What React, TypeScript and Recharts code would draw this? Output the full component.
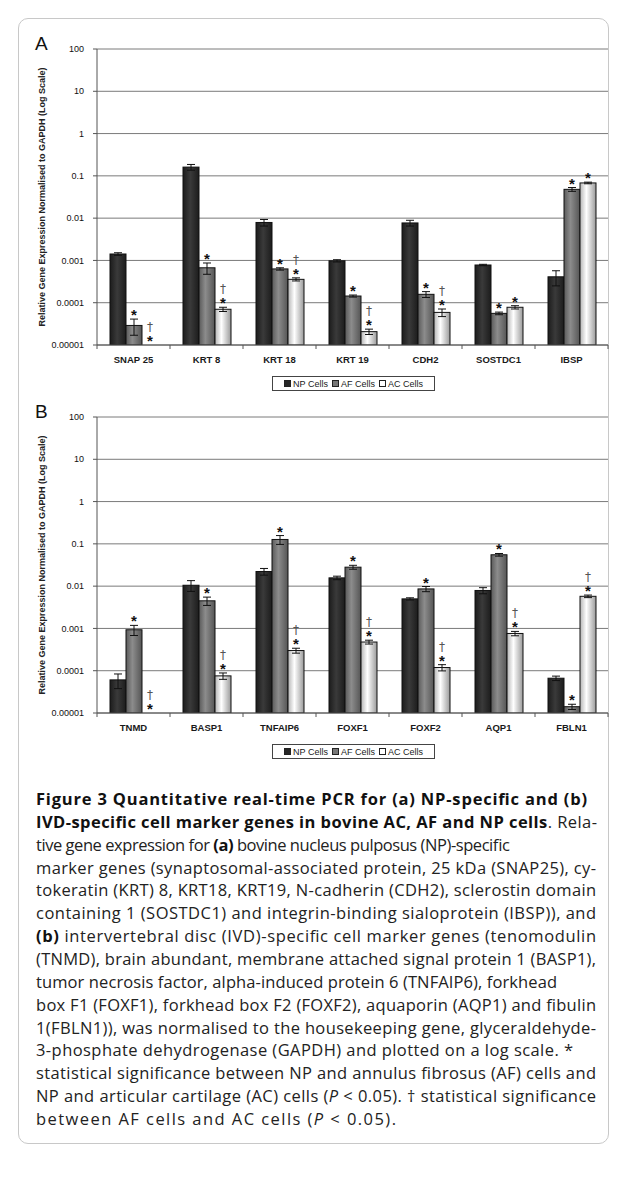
import React from 'react'
import { BarChart, Bar, XAxis, YAxis, CartesianGrid, ErrorBar } from 'recharts'

// panel A: NP-specific markers
const genesA = ['SNAP 25', 'KRT 8', 'KRT 18', 'KRT 19', 'CDH2', 'SOSTDC1', 'IBSP']
const npA = [0.00142, 0.161, 0.0079, 0.00098, 0.0077, 0.00078, 0.00041]
const npErrA = [0.0001, 0.025, 0.0014, 0.00006, 0.0012, 0.00003, 0.00016]
const afA = [0.000029, 0.00067, 0.00063, 0.000144, 0.000158, 0.000056, 0.048]
const afErrA = [0.000012, 0.0002, 0.00004, 0.000008, 0.000025, 0.000004, 0.005]
const acA = [null, 0.00007, 0.000357, 0.0000207, 0.000059, 0.000078, 0.068]
const acErrA = [null, 0.000008, 0.00003, 0.000003, 0.000012, 0.000007, 0.003]
const afSigA = ['*', '*', '*', '*', '*', '*', '*']
const acSigA = ['†*', '†*', '†*', '†*', '†*', '*', '*']

// panel B: IVD-specific markers
const genesB = ['TNMD', 'BASP1', 'TNFAIP6', 'FOXF1', 'FOXF2', 'AQP1', 'FBLN1']
const npB = [0.0000607, 0.0105, 0.0222, 0.0157, 0.005, 0.0079, 0.0000665]
const npErrB = [0.000023, 0.003, 0.004, 0.0015, 0.0003, 0.0013, 0.000008]
const afB = [0.00093, 0.0045, 0.127, 0.0281, 0.0086, 0.0552, 0.0000141]
const afErrB = [0.00025, 0.001, 0.03, 0.003, 0.0012, 0.004, 0.000002]
const acB = [null, 0.0000755, 0.0003, 0.000477, 0.000119, 0.00076, 0.00575]
const acErrB = [null, 0.000013, 0.00004, 0.00005, 0.00002, 0.00009, 0.0004]
const afSigB = ['*', '*', '*', '*', '*', '*', '*']
const acSigB = ['†*', '†*', '†*', '†*', '†*', '†*', '†*']

const yTicks = [0.00001, 0.0001, 0.001, 0.01, 0.1, 1, 10, 100]
const yTickLabels = ['0.00001', '0.0001', '0.001', '0.01', '0.1', '1', '10', '100']
const seriesNames = ['NP Cells', 'AF Cells', 'AC Cells']

const FLOOR = 0.00001
const PLOT_H = 296
const DECADE = PLOT_H / 7
const BAND = 511 / 7
const FONT = '"Liberation Sans", Arial, sans-serif'

const buildRows = (genes, np, npErr, af, afErr, ac, acErr, afSig, acSig) =>
  genes.map((g, i) => ({
    gene: g,
    np: np[i],
    npErr: npErr[i],
    af: af[i],
    afErr: afErr[i],
    ac: ac[i] == null ? FLOOR : ac[i],
    acErr: acErr[i] == null ? 0 : acErr[i],
    acMissing: ac[i] == null,
    afSig: afSig[i],
    acSig: acSig[i],
  }))

const rowsA = buildRows(genesA, npA, npErrA, afA, afErrA, acA, acErrA, afSigA, acSigA)
const rowsB = buildRows(genesB, npB, npErrB, afB, afErrB, acB, acErrB, afSigB, acSigB)

const makeShape = (key: string, fillId: string) => (props: any) => {
  const { x, y, width, height, payload } = props
  const v = payload[key]
  const err = payload[key + 'Err'] || 0
  const missing = key === 'ac' && payload.acMissing
  const sig = key === 'np' ? '' : payload[key + 'Sig']
  const errPx = missing ? 0 : Math.log10((v + err) / v) * DECADE
  const top = y - errPx
  const starC = missing ? y + height - 7 : top - 7
  const cx = x + width / 2
  return (
    <g>
      {!missing && height > 0 && (
        <rect x={x} y={y} width={width} height={height} fill={`url(#${fillId})`} stroke="#111" strokeWidth={1} />
      )}
      {sig && sig.includes('*') && (
        <text x={cx} y={starC + 8} textAnchor="middle" fontSize={15} fontWeight="bold" fontFamily={FONT} fill="#111">*</text>
      )}
      {sig && sig.includes('†') && (
        <text x={cx} y={starC - 7} textAnchor="middle" fontSize={12} fontFamily='"DejaVu Sans", sans-serif' fill="#555">†</text>
      )}
    </g>
  )
}

const XTick = (props: any) => {
  const { x, y, payload, index } = props
  return (
    <g>
      <line x1={x - BAND / 2} y1={y} x2={x - BAND / 2} y2={y + 4} stroke="#555" />
      {index === 6 && <line x1={x + BAND / 2} y1={y} x2={x + BAND / 2} y2={y + 4} stroke="#555" />}
      <text x={x} y={y + 18} textAnchor="middle" fontSize={9.5} fontWeight="bold" fontFamily={FONT} fill="#1a1a1a">
        {payload.value}
      </text>
    </g>
  )
}

const LegendBox = ({ top }: { top: number }) => {
  const swatch = ['#262626', '#777', '#fff']
  return (
    <div
      style={{
        position: 'absolute', left: 272, top, width: 161, height: 13,
        border: '1px solid #444', background: '#fff', display: 'flex', alignItems: 'center',
        justifyContent: 'center', gap: 4, fontFamily: FONT, fontSize: 9, color: '#1a1a1a',
      }}
    >
      {seriesNames.map((n, i) => (
        <span key={n} style={{ display: 'flex', alignItems: 'center', gap: 2 }}>
          <span style={{ width: 5, height: 5, border: '1px solid #222', background: swatch[i], display: 'inline-block' }} />
          {n}
        </span>
      ))}
    </div>
  )
}

const Gradients = () => (
  <defs>
    <linearGradient id="gNP" x1="0" y1="0" x2="1" y2="0">
      <stop offset="0" stopColor="#1c1c1c" />
      <stop offset="0.45" stopColor="#3a3a3a" />
      <stop offset="1" stopColor="#1c1c1c" />
    </linearGradient>
    <linearGradient id="gAF" x1="0" y1="0" x2="1" y2="0">
      <stop offset="0" stopColor="#5a5a5a" />
      <stop offset="0.4" stopColor="#8c8c8c" />
      <stop offset="1" stopColor="#555" />
    </linearGradient>
    <linearGradient id="gAC" x1="0" y1="0" x2="1" y2="0">
      <stop offset="0" stopColor="#b5b5b5" />
      <stop offset="0.4" stopColor="#ffffff" />
      <stop offset="1" stopColor="#9a9a9a" />
    </linearGradient>
  </defs>
)

const Panel = ({ letter, rows, top }: { letter: string; rows: any[]; top: number }) => (
  <div style={{ position: 'absolute', left: 0, top, width: 624, height: 400 }}>
    <BarChart width={624} height={400} data={rows} margin={{ top: 49, right: 16, bottom: 35, left: 37 }} barSize={16} barGap={0}>
      <Gradients />
      <CartesianGrid vertical={false} stroke="#7a7a7a" strokeWidth={1} />
      <XAxis dataKey="gene" height={20} tickLine={false} tickSize={0} tickMargin={0} axisLine={{ stroke: '#555' }} tick={<XTick />} interval={0} />
      <YAxis
        scale="log"
        domain={[FLOOR, 100]}
        ticks={yTicks}
        allowDataOverflow
        width={60}
        tickSize={4}
        tickMargin={9}
        tickFormatter={(v) => yTickLabels[yTicks.indexOf(v)]}
        tick={{ fontSize: 9, fill: '#111', fontFamily: FONT }}
        axisLine={{ stroke: '#555' }}
        tickLine={{ stroke: '#555' }}
        label={{
          value: 'Relative Gene Expression Normalised to GAPDH (Log Scale)',
          angle: -90, position: 'insideLeft', offset: 5,
          style: { textAnchor: 'middle', fontSize: 9, fontWeight: 'bold', fontFamily: FONT, fill: '#222' },
        }}
      />
      <Bar dataKey="np" name={seriesNames[0]} shape={makeShape('np', 'gNP')} isAnimationActive={false}>
        <ErrorBar dataKey="npErr" width={4} stroke="#111" strokeWidth={1} isAnimationActive={false} />
      </Bar>
      <Bar dataKey="af" name={seriesNames[1]} shape={makeShape('af', 'gAF')} isAnimationActive={false}>
        <ErrorBar dataKey="afErr" width={4} stroke="#111" strokeWidth={1} isAnimationActive={false} />
      </Bar>
      <Bar dataKey="ac" name={seriesNames[2]} shape={makeShape('ac', 'gAC')} isAnimationActive={false}>
        <ErrorBar dataKey="acErr" width={4} stroke="#111" strokeWidth={1} isAnimationActive={false} />
      </Bar>
    </BarChart>
    <div style={{ position: 'absolute', left: 35, top: 33, fontFamily: FONT, fontSize: 19, color: '#111', lineHeight: '22px' }}>{letter}</div>
    <LegendBox top={376} />
  </div>
)

type Seg = { t: string; b?: boolean; i?: boolean }
const caption: { segs: Seg[]; w?: number }[] = [
  { segs: [{ t: 'Figure 3 Quantitative real-time PCR for (a) NP-specific and (b)', b: true }], w: 551 },
  { segs: [{ t: 'IVD-specific cell marker genes in bovine AC, AF and NP cells', b: true }, { t: '. Rela-' }], w: 561 },
  { segs: [{ t: 'tive gene expression for ' }, { t: '(a)', b: true }, { t: ' bovine nucleus pulposus (NP)-specific' }], w: 474 },
  { segs: [{ t: 'marker genes (synaptosomal-associated protein, 25 kDa (SNAP25), cy-' }], w: 560 },
  { segs: [{ t: 'tokeratin (KRT) 8, KRT18, KRT19, N-cadherin (CDH2), sclerostin domain' }], w: 560 },
  { segs: [{ t: 'containing 1 (SOSTDC1) and integrin-binding sialoprotein (IBSP)), and' }], w: 560 },
  { segs: [{ t: '(b)', b: true }, { t: ' intervertebral disc (IVD)-specific cell marker genes (tenomodulin' }], w: 560 },
  { segs: [{ t: '(TNMD), brain abundant, membrane attached signal protein 1 (BASP1),' }], w: 560 },
  { segs: [{ t: 'tumor necrosis factor, alpha-induced protein 6 (TNFAIP6), forkhead' }], w: 521 },
  { segs: [{ t: 'box F1 (FOXF1), forkhead box F2 (FOXF2), aquaporin (AQP1) and fibulin' }], w: 560 },
  { segs: [{ t: '1(FBLN1)), was normalised to the housekeeping gene, glyceraldehyde-' }], w: 560 },
  { segs: [{ t: '3-phosphate dehydrogenase (GAPDH) and plotted on a log scale. *' }], w: 537 },
  { segs: [{ t: 'statistical significance between NP and annulus fibrosus (AF) cells and' }], w: 560 },
  { segs: [{ t: 'NP and articular cartilage (AC) cells (' }, { t: 'P', i: true }, { t: ' < 0.05). † statistical significance' }], w: 560 },
  { segs: [{ t: 'between AF cells and AC cells (' }, { t: 'P', i: true }, { t: ' < 0.05).' }], w: 360 },
]

const Caption = () => (
  <svg width={624} height={420} style={{ position: 'absolute', left: 0, top: 780 }}>
    {caption.map((line, k) => (
      <text
        key={k}
        x={36}
        y={25 + k * 22.85}
        fontSize={16.5}
        fontFamily='"Open Sans", sans-serif'
        fill="#222"
        textLength={line.w}
        lengthAdjust="spacing"
      >
        {line.segs.map((s, j) => (
          <tspan key={j} fontWeight={s.b ? 'bold' : 'normal'} fontStyle={s.i ? 'italic' : 'normal'} fill={s.b ? '#111' : '#222'}>
            {s.t}
          </tspan>
        ))}
      </text>
    ))}
  </svg>
)

export default function App() {
  return (
    <div style={{ position: 'absolute', left: 0, top: 0, width: 624, height: 1195, background: '#fff' }}>
      <div style={{ position: 'absolute', left: 18, top: 18, width: 589, height: 1124, border: '1px solid #c8c8c8', borderRadius: 10 }} />
      <Panel letter="A" rows={rowsA} top={0} />
      <Panel letter="B" rows={rowsB} top={368} />
      <Caption />
    </div>
  )
}
